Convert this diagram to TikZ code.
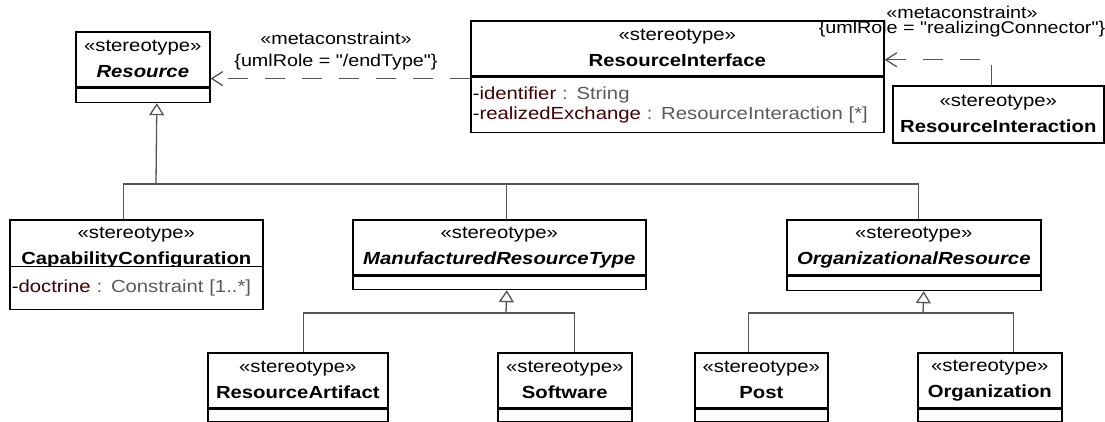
\documentclass[tikz,border=0pt]{standalone}
\usepackage{fontspec}
\setmainfont{Liberation Sans}[FakeStretch=1.16, Ligatures=TeXOff]
\usetikzlibrary{positioning,arrows.meta}
\definecolor{umlline}{HTML}{555555}
\definecolor{attrname}{HTML}{400000}
\definecolor{attrtype}{HTML}{5A5A5A}
\newcommand{\umlattr}[2]{-\textcolor{attrname}{#1} \textcolor{attrtype}{: #2}}
\newcommand{\tightlines}{\lineskiplimit=-20pt\relax}

\begin{document}
\begin{tikzpicture}[
			x=1pt, y=-1pt,
			font=\fontsize{17.5}{26}\selectfont,
			head/.style={draw, line width=1.6pt, rectangle, anchor=north west, inner sep=0pt, align=center, minimum height=55pt},
			body/.style={draw, line width=1.6pt, rectangle, anchor=north west, inner xsep=2pt, inner ysep=0pt, align=left, minimum height=12pt, font=\fontsize{17.5}{20}\selectfont},
			branch/.style={umlline, line width=1.3pt},
			gen/.style={-{Triangle[open, fill=white, length=12pt, width=15pt]}, umlline, line width=1.3pt},
			meta/.style={-{Straight Barb[length=11pt, width=14pt]}, umlline, line width=1.3pt, dash pattern=on 20pt off 17pt},
			tag/.style={inner sep=0pt, align=center}
			]
			\useasboundingbox (0,0) rectangle (1105,421);
			
			% Classi in alto
			\node[head, minimum width=134pt] (res) at (75,31) {«stereotype»\\\textbf{\textit{Resource}}};
			\node[body, minimum width=134pt, minimum height=14pt] (resA) at (res.south west) {};
			\node[head, minimum width=413pt] (ri) at (470,20) {«stereotype»\\\textbf{ResourceInterface}};
			\node[body, text width=409pt, minimum height=55pt] (riA) at (ri.south west) {\umlattr{identifier}{String}\\\umlattr{realizedExchange}{ResourceInteraction [*]}};
			\node[head, minimum width=211pt, minimum height=57pt] (rix) at (892,85) {«stereotype»\\\textbf{ResourceInteraction}};
			
			% Classi intermedie
			\node[head, minimum width=253pt] (cc) at (9,219) {«stereotype»\\\textbf{CapabilityConfiguration}};
			\node[body, fill=white, text width=249pt, minimum height=43pt] (ccA) at ([yshift=10pt]cc.south west) {\umlattr{doctrine}{Constraint [1..*]}};
			\node[head, minimum width=293pt] (mrt) at (352,219) {«stereotype»\\\textbf{\textit{ManufacturedResourceType}}};
			\node[body, minimum width=293pt, minimum height=13pt] (mrtA) at (mrt.south west) {};
			\node[head, minimum width=254pt] (orgres) at (786,219) {«stereotype»\\\textbf{\textit{OrganizationalResource}}};
			\node[body, minimum width=254pt, minimum height=14pt] (orgresA) at (orgres.south west) {};
			
			% Classi in basso
			\node[head, minimum width=180pt] (ra) at (207,352) {«stereotype»\\\textbf{ResourceArtifact}};
			\node[body, minimum width=180pt] (raA) at (ra.south west) {};
			\node[head, minimum width=134pt] (sw) at (497,352) {«stereotype»\\\textbf{Software}};
			\node[body, minimum width=134pt] (swA) at (sw.south west) {};
			\node[head, minimum width=133pt] (post) at (694,352) {«stereotype»\\\textbf{Post}};
			\node[body, minimum width=133pt] (postA) at (post.south west) {};
			\node[head, minimum width=144pt] (org) at (917,352) {«stereotype»\\\textbf{Organization}};
			\node[body, minimum width=144pt] (orgA) at (org.south west) {};
			
			% Metaconstraint
			\node[tag, font=\fontsize{17}{22}\selectfont] (endType) at (336,51) {«metaconstraint»\\\{umlRole = "/endType"\}};
			\node[tag, font=\fontsize{17}{15}\selectfont\tightlines] (realConn) at (962,22) {«metaconstraint»\\\{umlRole = "realizingConnector"\}};
			\coordinate (riIn) at ([yshift=-2pt]riA.north west);
			\draw[meta] (riIn) -- (riIn -| res.east);
			\coordinate (rixOut) at ([xshift=-6.5pt]rix.north);
			\coordinate (riOut) at ([yshift=-11.5pt]ri.east);
			\draw[meta] (rixOut) |- (riOut);
			
			% Generalizzazioni
			\coordinate (bus) at (156,184);
			\coordinate (mrtTop) at ([xshift=7.5pt]mrt.north);
			\draw[branch] ([xshift=-12.5pt]cc.north) |- (bus) -| ([xshift=5pt]orgres.north);
			\draw[gen] (bus) -- ([xshift=14pt]resA.south);
			\draw[branch] (bus -| mrtTop) -- (mrtTop);
			
			\coordinate (mrtBus) at (506,313);
			\draw[branch] ([xshift=6pt]ra.north) |- (mrtBus) -| ([xshift=9.5pt]sw.north);
			\draw[gen] (mrtBus) -- ([xshift=7.5pt]mrtA.south);
			
			\coordinate (orgBus) at (923,313);
			\draw[branch] ([xshift=-12.5pt]post.north) |- (orgBus) -| ([xshift=24pt]org.north);
			\draw[gen] (orgBus) -- ([xshift=10pt]orgresA.south);
		\end{tikzpicture}
\end{document}
